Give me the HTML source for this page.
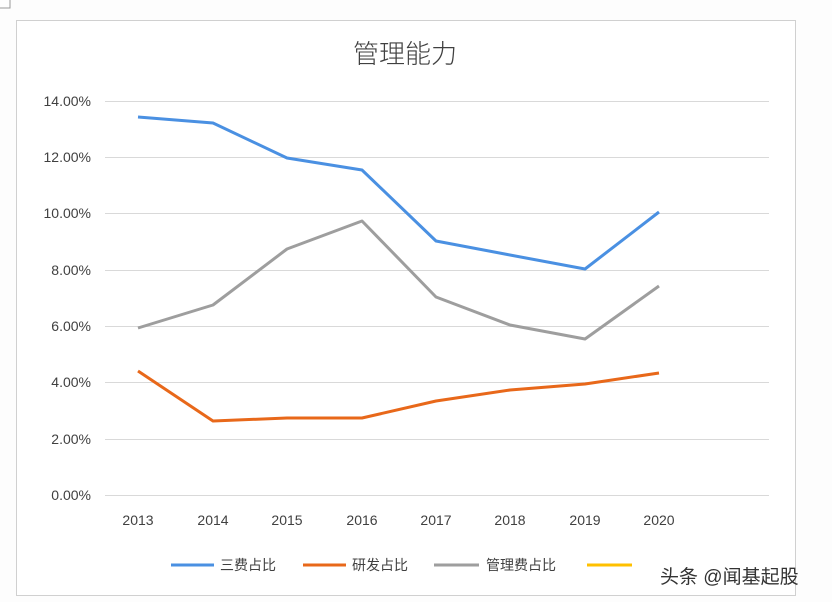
<!DOCTYPE html>
<html><head><meta charset="utf-8"><style>
body{margin:0;background:#fff;}
svg{display:block;font-family:"Liberation Sans","Noto Sans CJK SC",sans-serif;}
</style></head><body>
<svg width="832" height="602" viewBox="0 0 832 602">
<rect width="832" height="602" fill="#fdfdfd"/>
<path d="M0 8 H10 V0" fill="none" stroke="#999" stroke-width="1"/>
<rect x="16.5" y="20.5" width="779" height="575" fill="#fff" stroke="#d0d0d0"/>
<text x="405" y="63" font-size="26" text-anchor="middle" fill="#404040" font-weight="300">管理能力</text>
<g stroke="#d9d9d9" stroke-width="1">
<line x1="105" x2="769" y1="101.5" y2="101.5"/><line x1="105" x2="769" y1="157.5" y2="157.5"/>
<line x1="105" x2="769" y1="213.5" y2="213.5"/><line x1="105" x2="769" y1="270.5" y2="270.5"/>
<line x1="105" x2="769" y1="326.5" y2="326.5"/><line x1="105" x2="769" y1="382.5" y2="382.5"/>
<line x1="105" x2="769" y1="439.5" y2="439.5"/><line x1="105" x2="769" y1="495.5" y2="495.5"/>
</g>
<g font-size="14" fill="#404040" text-anchor="end">
<text x="91" y="106">14.00%</text><text x="91" y="162">12.00%</text><text x="91" y="218">10.00%</text>
<text x="91" y="275">8.00%</text><text x="91" y="331">6.00%</text><text x="91" y="387">4.00%</text>
<text x="91" y="444">2.00%</text><text x="91" y="500">0.00%</text>
</g>
<g font-size="14" fill="#404040" text-anchor="middle">
<text x="138" y="525">2013</text><text x="213" y="525">2014</text><text x="287" y="525">2015</text>
<text x="362" y="525">2016</text><text x="436" y="525">2017</text><text x="510" y="525">2018</text>
<text x="585" y="525">2019</text><text x="659" y="525">2020</text>
</g>
<g fill="none" stroke-width="3" stroke-linejoin="round">
<polyline stroke="#4a90e2" points="138,117 213,123 287,158 362,170 436,241 510,255 585,269 659,212"/>
<polyline stroke="#e8681a" points="138,371 213,421 287,418 362,418 436,401 510,390 585,384 659,373"/>
<polyline stroke="#9e9e9e" points="138,328 213,305 287,249 362,221 436,297 510,325 585,339 659,286"/>
</g>
<g stroke-width="3">
<line x1="171" x2="214" y1="565" y2="565" stroke="#4a90e2"/>
<line x1="303" x2="346" y1="565" y2="565" stroke="#e8681a"/>
<line x1="434" x2="479" y1="565" y2="565" stroke="#9e9e9e"/>
<line x1="587" x2="632" y1="565" y2="565" stroke="#ffc000"/>
</g>
<g font-size="14" fill="#404040">
<text x="220" y="570">三费占比</text><text x="352" y="570">研发占比</text><text x="486" y="570">管理费占比</text>
</g>
<text x="660" y="583" font-size="19" fill="#333">头条 @闻基起股</text>
</svg>
</body></html>
